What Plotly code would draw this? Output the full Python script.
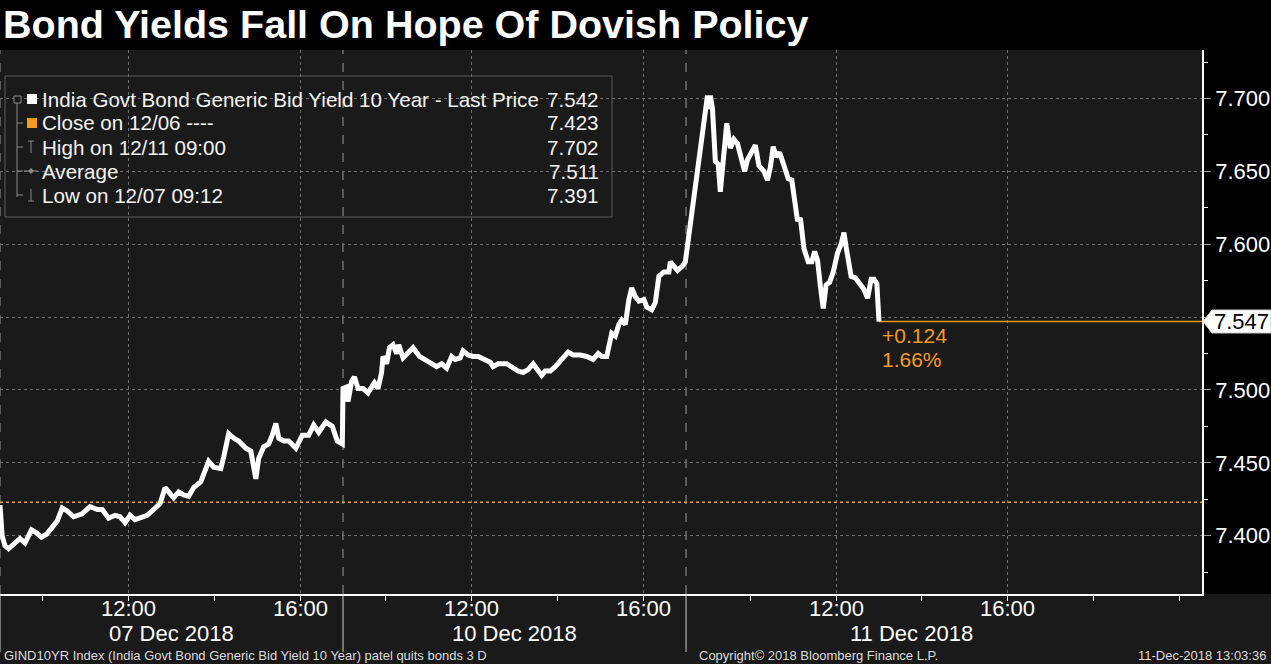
import plotly.graph_objects as go

# ------------------------------------------------------------------ data
title_text = "Bond Yields Fall On Hope Of Dovish Policy"

day1_date = "2018-12-07"
day1_times = ["09:00", "09:03", "09:07", "09:12", "09:21", "09:28", "09:35", "09:44", "09:51", "09:58",
              "10:05", "10:13", "10:20", "10:27", "10:34", "10:43", "10:55", "11:06", "11:16", "11:23",
              "11:32", "11:41", "11:48", "11:55", "12:02", "12:09", "12:16", "12:26", "12:35", "12:44",
              "12:51", "12:56", "13:03", "13:10", "13:17", "13:24", "13:31", "13:41", "13:48", "13:52",
              "13:59", "14:09", "14:13", "14:20", "14:27", "14:34", "14:44", "14:51", "14:58", "15:02",
              "15:09", "15:16", "15:21", "15:26", "15:30", "15:37", "15:44", "15:54", "16:03", "16:12",
              "16:19", "16:26", "16:36", "16:45", "16:52", "16:59"]
day1_yield = [7.421, 7.400, 7.393, 7.391, 7.395, 7.398, 7.395, 7.404, 7.402, 7.399,
              7.401, 7.406, 7.410, 7.419, 7.417, 7.413, 7.415, 7.420, 7.418, 7.418,
              7.412, 7.414, 7.413, 7.409, 7.414, 7.411, 7.412, 7.414, 7.418, 7.422,
              7.433, 7.430, 7.426, 7.430, 7.428, 7.427, 7.433, 7.437, 7.447, 7.451,
              7.447, 7.446, 7.454, 7.470, 7.467, 7.465, 7.460, 7.458, 7.439, 7.453,
              7.461, 7.463, 7.469, 7.477, 7.467, 7.465, 7.465, 7.460, 7.469, 7.469,
              7.476, 7.471, 7.478, 7.475, 7.465, 7.463]

day2_date = "2018-12-10"
day2_times = ["09:00", "09:05", "09:07", "09:12", "09:16", "09:21", "09:28", "09:35", "09:40", "09:44",
              "09:49", "09:54", "09:56", "10:01", "10:05", "10:10", "10:15", "10:18", "10:24", "10:31",
              "10:38", "10:47", "10:59", "11:11", "11:18", "11:25", "11:32", "11:37", "11:44", "11:48",
              "11:55", "12:02", "12:09", "12:19", "12:26", "12:30", "12:37", "12:49", "12:56", "13:05",
              "13:12", "13:19", "13:26", "13:31", "13:38", "13:43", "13:50", "13:57", "14:06", "14:15",
              "14:22", "14:32", "14:41", "14:50", "14:57", "15:02", "15:09", "15:16", "15:21", "15:26",
              "15:30", "15:35", "15:40", "15:44", "15:49", "15:54", "16:01", "16:05", "16:12", "16:17",
              "16:22", "16:29", "16:36", "16:38", "16:43", "16:48", "16:55", "16:59"]
day2_yield = [7.501, 7.502, 7.492, 7.506, 7.509, 7.501, 7.501, 7.498, 7.502, 7.505,
              7.501, 7.512, 7.523, 7.518, 7.529, 7.531, 7.525, 7.531, 7.522, 7.525,
              7.529, 7.523, 7.519, 7.516, 7.518, 7.515, 7.523, 7.521, 7.522, 7.527,
              7.524, 7.523, 7.523, 7.521, 7.519, 7.516, 7.518, 7.518, 7.516, 7.513,
              7.512, 7.514, 7.518, 7.515, 7.510, 7.513, 7.513, 7.516, 7.521, 7.526,
              7.524, 7.524, 7.523, 7.521, 7.525, 7.523, 7.523, 7.539, 7.537, 7.545,
              7.548, 7.545, 7.562, 7.570, 7.564, 7.561, 7.562, 7.557, 7.555, 7.560,
              7.578, 7.581, 7.581, 7.588, 7.585, 7.582, 7.585, 7.588]

day3_date = "2018-12-11"
day3_times = ["09:00", "09:01", "09:04", "09:07", "09:11", "09:15", "09:18", "09:21", "09:27", "09:32",
              "09:37", "09:42", "09:46", "09:52", "09:56", "10:02", "10:07", "10:12", "10:19", "10:24",
              "10:28", "10:32", "10:36", "10:41", "10:47", "10:53", "10:58", "11:03", "11:06", "11:10",
              "11:15", "11:21", "11:26", "11:30", "11:34", "11:38", "11:42", "11:46", "11:51", "11:56",
              "12:02", "12:07", "12:11", "12:14", "12:21", "12:27", "12:32", "12:39", "12:44", "12:49",
              "12:53", "12:57", "13:00"]
day3_yield = [7.702, 7.693, 7.702, 7.693, 7.657, 7.655, 7.636, 7.654, 7.683, 7.666,
              7.672, 7.669, 7.661, 7.650, 7.658, 7.663, 7.668, 7.654, 7.650, 7.644,
              7.653, 7.667, 7.660, 7.663, 7.655, 7.645, 7.644, 7.626, 7.616, 7.618,
              7.597, 7.588, 7.588, 7.595, 7.589, 7.571, 7.556, 7.572, 7.574, 7.581,
              7.594, 7.600, 7.608, 7.598, 7.578, 7.577, 7.574, 7.569, 7.563, 7.576,
              7.576, 7.573, 7.547]

close_prev = 7.423
change_text = "+0.124"
pct_text = "1.66%"

legend_labels = ["India Govt Bond Generic Bid Yield 10 Year - Last Price", "Close on 12/06 ----",
                 "High on 12/11 09:00", "Average", "Low on 12/07 09:12"]
legend_values = ["7.542", "7.423", "7.702", "7.511", "7.391"]

y_tickvals = [7.40, 7.45, 7.50, 7.55, 7.60, 7.65, 7.70]
y_minor_vals = [7.375, 7.425, 7.475, 7.525, 7.575, 7.625, 7.675, 7.725]

x_tickvals = ["2018-12-07 12:00", "2018-12-07 16:00", "2018-12-10 12:00", "2018-12-10 16:00",
              "2018-12-11 12:00", "2018-12-11 16:00"]
x_ticktext = ["12:00", "16:00", "12:00", "16:00", "12:00", "16:00"]
x_minor_vals = ["2018-12-07 10:00", "2018-12-07 12:00", "2018-12-07 14:00", "2018-12-07 16:00",
                "2018-12-10 10:00", "2018-12-10 12:00", "2018-12-10 14:00", "2018-12-10 16:00",
                "2018-12-11 10:00", "2018-12-11 12:00", "2018-12-11 14:00", "2018-12-11 16:00",
                "2018-12-11 18:00", "2018-12-11 20:00"]

session_starts = ["2018-12-07 09:00", "2018-12-10 09:00", "2018-12-11 08:30"]
date_labels = ["07 Dec 2018", "10 Dec 2018", "11 Dec 2018"]
date_label_pos = ["2018-12-07 13:00", "2018-12-10 13:00", "2018-12-11 13:45"]

x_start = "2018-12-07 09:00"
x_end = "2018-12-11 20:32"
y_range = [7.360, 7.7333]

footer_left = "GIND10YR Index (India Govt Bond Generic Bid Yield 10 Year) patel quits bonds 3 D"
footer_mid = "Copyright\u00a9 2018 Bloomberg Finance L.P."
footer_right = "11-Dec-2018 13:03:36"

# ------------------------------------------------------------------ styling
W, H = 1271, 664
ML, MR, MT, MB = 0, 69, 50, 70
PW, PH = W - ML - MR, H - MT - MB
BG = "#1a1a1a"
ORANGE = "#f39c1f"
GRID = "#6e6e6e"
FONT = "Liberation Sans, Arial, sans-serif"


def px(x):
    return (x - ML) / PW


def py(y):
    return (MT + PH - y) / PH


times = ([f"{day1_date} {t}" for t in day1_times] +
         [f"{day2_date} {t}" for t in day2_times] +
         [f"{day3_date} {t}" for t in day3_times])
yields = day1_yield + day2_yield + day3_yield
last_time, last_val = times[-1], yields[-1]

fig = go.Figure()

# previous close (dotted orange)
fig.add_trace(go.Scatter(x=[x_start, x_end], y=[close_prev, close_prev], mode="lines",
                         line=dict(color=ORANGE, width=1.5, dash="dot"), hoverinfo="skip"))
# last price level line
fig.add_trace(go.Scatter(x=[last_time, x_end], y=[last_val, last_val], mode="lines",
                         line=dict(color=ORANGE, width=1.5), hoverinfo="skip"))
# yield line
fig.add_trace(go.Scatter(x=times, y=yields, mode="lines",
                         line=dict(color="white", width=5), hoverinfo="skip"))

shapes = []
annotations = []

# black strips (title bar and right axis)
shapes.append(dict(type="rect", xref="paper", yref="paper", x0=px(0), x1=px(W), y0=1, y1=py(0),
                   fillcolor="black", line=dict(width=0), layer="below"))
shapes.append(dict(type="rect", xref="paper", yref="paper", x0=1, x1=px(W), y0=0, y1=1,
                   fillcolor="black", line=dict(width=0), layer="below"))

# session separators
for s in session_starts:
    shapes.append(dict(type="line", xref="x", yref="paper", x0=s, x1=s, y0=0, y1=1,
                       line=dict(color="#9a9a9a", width=1, dash="dash"), layer="between"))
    shapes.append(dict(type="line", xref="x", yref="paper", x0=s, x1=s, y0=0, y1=py(652),
                       line=dict(color="#d0d0d0", width=1)))

# legend box
shapes.append(dict(type="rect", xref="paper", yref="paper", x0=px(5), x1=px(612), y0=py(217), y1=py(76),
                   line=dict(color="#5a5a5a", width=1), fillcolor="rgba(0,0,0,0)", layer="above"))
row_y = [99, 123, 147, 171, 195]
TREE = "#8a8a8a"
shapes.append(dict(type="line", xref="paper", yref="paper", x0=px(17), x1=px(17), y0=py(103), y1=py(197),
                   line=dict(color=TREE, width=1)))
for ry in row_y[1:]:
    shapes.append(dict(type="line", xref="paper", yref="paper", x0=px(17), x1=px(23), y0=py(ry), y1=py(ry),
                       line=dict(color=TREE, width=1)))
shapes.append(dict(type="rect", xref="paper", yref="paper", x0=px(14), x1=px(21), y0=py(103), y1=py(96),
                   line=dict(color=TREE, width=1), fillcolor=BG))
shapes.append(dict(type="rect", xref="paper", yref="paper", x0=px(27), x1=px(37), y0=py(104), y1=py(94),
                   line=dict(width=0), fillcolor="white"))
shapes.append(dict(type="rect", xref="paper", yref="paper", x0=px(27), x1=px(37), y0=py(128), y1=py(118),
                   line=dict(width=0), fillcolor=ORANGE))
# high icon
shapes.append(dict(type="line", xref="paper", yref="paper", x0=px(31), x1=px(31), y0=py(153), y1=py(141),
                   line=dict(color=TREE, width=1)))
shapes.append(dict(type="line", xref="paper", yref="paper", x0=px(28), x1=px(34), y0=py(141), y1=py(141),
                   line=dict(color=TREE, width=1)))
# average icon
shapes.append(dict(type="line", xref="paper", yref="paper", x0=px(24), x1=px(38), y0=py(171), y1=py(171),
                   line=dict(color=TREE, width=1)))
shapes.append(dict(type="path", xref="paper", yref="paper",
                   path=f"M {px(31)},{py(168)} L {px(34)},{py(171)} L {px(31)},{py(174)} L {px(28)},{py(171)} Z",
                   fillcolor=TREE, line=dict(width=0)))
# low icon
shapes.append(dict(type="line", xref="paper", yref="paper", x0=px(31), x1=px(31), y0=py(189), y1=py(201),
                   line=dict(color=TREE, width=1)))
shapes.append(dict(type="line", xref="paper", yref="paper", x0=px(28), x1=px(34), y0=py(201), y1=py(201),
                   line=dict(color=TREE, width=1)))

for lab, val, ry in zip(legend_labels, legend_values, row_y):
    annotations.append(dict(xref="paper", yref="paper", x=px(40), y=py(ry), xanchor="left", yanchor="middle",
                            text=lab, showarrow=False, font=dict(family=FONT, size=20.6, color="#f2f2f2")))
    annotations.append(dict(xref="paper", yref="paper", x=px(601), y=py(ry), xanchor="right", yanchor="middle",
                            text=val, showarrow=False, font=dict(family=FONT, size=20.6, color="#f2f2f2")))

# last price tag
half = 11.5 / PH * (y_range[1] - y_range[0])
shapes.append(dict(type="path", xref="paper", yref="y",
                   path=(f"M {px(1203)},{last_val} L {px(1212)},{last_val + half} L {px(W)},{last_val + half} "
                         f"L {px(W)},{last_val - half} L {px(1212)},{last_val - half} Z"),
                   fillcolor="white", line=dict(color="#cccccc", width=1), layer="above"))
annotations.append(dict(xref="paper", yref="y", x=px(1241), y=last_val, xanchor="center", yanchor="middle",
                        text=f"{last_val:.3f}", showarrow=False, font=dict(family=FONT, size=22, color="black")))

# change annotation
annotations.append(dict(xref="x", yref="y", x=last_time, y=last_val, xanchor="left", yanchor="middle",
                        xshift=1, yshift=-14, text=change_text, showarrow=False,
                        font=dict(family=FONT, size=21, color=ORANGE)))
annotations.append(dict(xref="x", yref="y", x=last_time, y=last_val, xanchor="left", yanchor="middle",
                        xshift=1, yshift=-38, text=pct_text, showarrow=False,
                        font=dict(family=FONT, size=21, color=ORANGE)))

# time tick labels (placed as text just under the axis)
for tv, tt in zip(x_tickvals, x_ticktext):
    annotations.append(dict(xref="x", yref="paper", x=tv, y=py(608), xanchor="center", yanchor="middle",
                            text=tt, showarrow=False, font=dict(family=FONT, size=22, color="white")))

# date labels
for lab, pos in zip(date_labels, date_label_pos):
    annotations.append(dict(xref="x", yref="paper", x=pos, y=py(633), xanchor="center", yanchor="middle",
                            text=lab, showarrow=False, font=dict(family=FONT, size=22, color="white")))

# title
annotations.append(dict(xref="paper", yref="paper", x=px(1), y=py(24), xanchor="left", yanchor="middle",
                        text=f"<b>{title_text}</b>", showarrow=False,
                        font=dict(family=FONT, size=39.5, color="white")))

# footer
annotations.append(dict(xref="paper", yref="paper", x=px(2), y=py(655), xanchor="left", yanchor="middle",
                        text=footer_left, showarrow=False, font=dict(family=FONT, size=13, color="#dcdcdc")))
annotations.append(dict(xref="paper", yref="paper", x=px(697), y=py(655), xanchor="left", yanchor="middle",
                        text=footer_mid, showarrow=False, font=dict(family=FONT, size=13, color="#dcdcdc")))
annotations.append(dict(xref="paper", yref="paper", x=px(1268), y=py(655), xanchor="right", yanchor="middle",
                        text=footer_right, showarrow=False, font=dict(family=FONT, size=13, color="#dcdcdc")))

y_ticktext = ["" if abs(v - 7.55) < 1e-9 else f"{v:.3f}" for v in y_tickvals]

fig.update_layout(
    width=W, height=H, autosize=False,
    margin=dict(l=ML, r=MR, t=MT, b=MB, pad=0),
    paper_bgcolor=BG, plot_bgcolor=BG,
    showlegend=False,
    font=dict(family=FONT, color="white"),
    shapes=shapes, annotations=annotations,
    xaxis=dict(
        type="date", range=[x_start, x_end],
        rangebreaks=[dict(values=["2018-12-07 17:00:00"], dvalue=64 * 3600 * 1000),
                     dict(values=["2018-12-10 17:00:00"], dvalue=15.5 * 3600 * 1000)],
        tickmode="array", tickvals=x_tickvals, ticktext=x_ticktext, showticklabels=False,
        ticks="outside", ticklen=5, tickcolor="white", tickwidth=1,
        showgrid=True, gridcolor=GRID, griddash="dot", gridwidth=1,
        showline=True, linecolor="white", linewidth=1.5, zeroline=False,
        minor=dict(tickmode="array", tickvals=x_minor_vals, ticks="outside", ticklen=5,
                   tickcolor="white", showgrid=False),
        fixedrange=True,
    ),
    yaxis=dict(
        side="right", range=y_range,
        tickmode="array", tickvals=y_tickvals, ticktext=y_ticktext,
        tickfont=dict(family=FONT, size=22, color="white"),
        ticks="outside", ticklen=7, tickcolor="#9a9a9a", tickwidth=1,
        showgrid=True, gridcolor=GRID, griddash="dot", gridwidth=1,
        showline=True, linecolor="white", linewidth=1.5, zeroline=False,
        minor=dict(tickmode="array", tickvals=y_minor_vals, ticks="outside", ticklen=4,
                   tickcolor="white", showgrid=False),
        fixedrange=True,
    ),
)

fig.write_html("out.html", config={"displayModeBar": False},
               post_script="document.body.style.margin='0';document.body.style.background='#1a1a1a';")
